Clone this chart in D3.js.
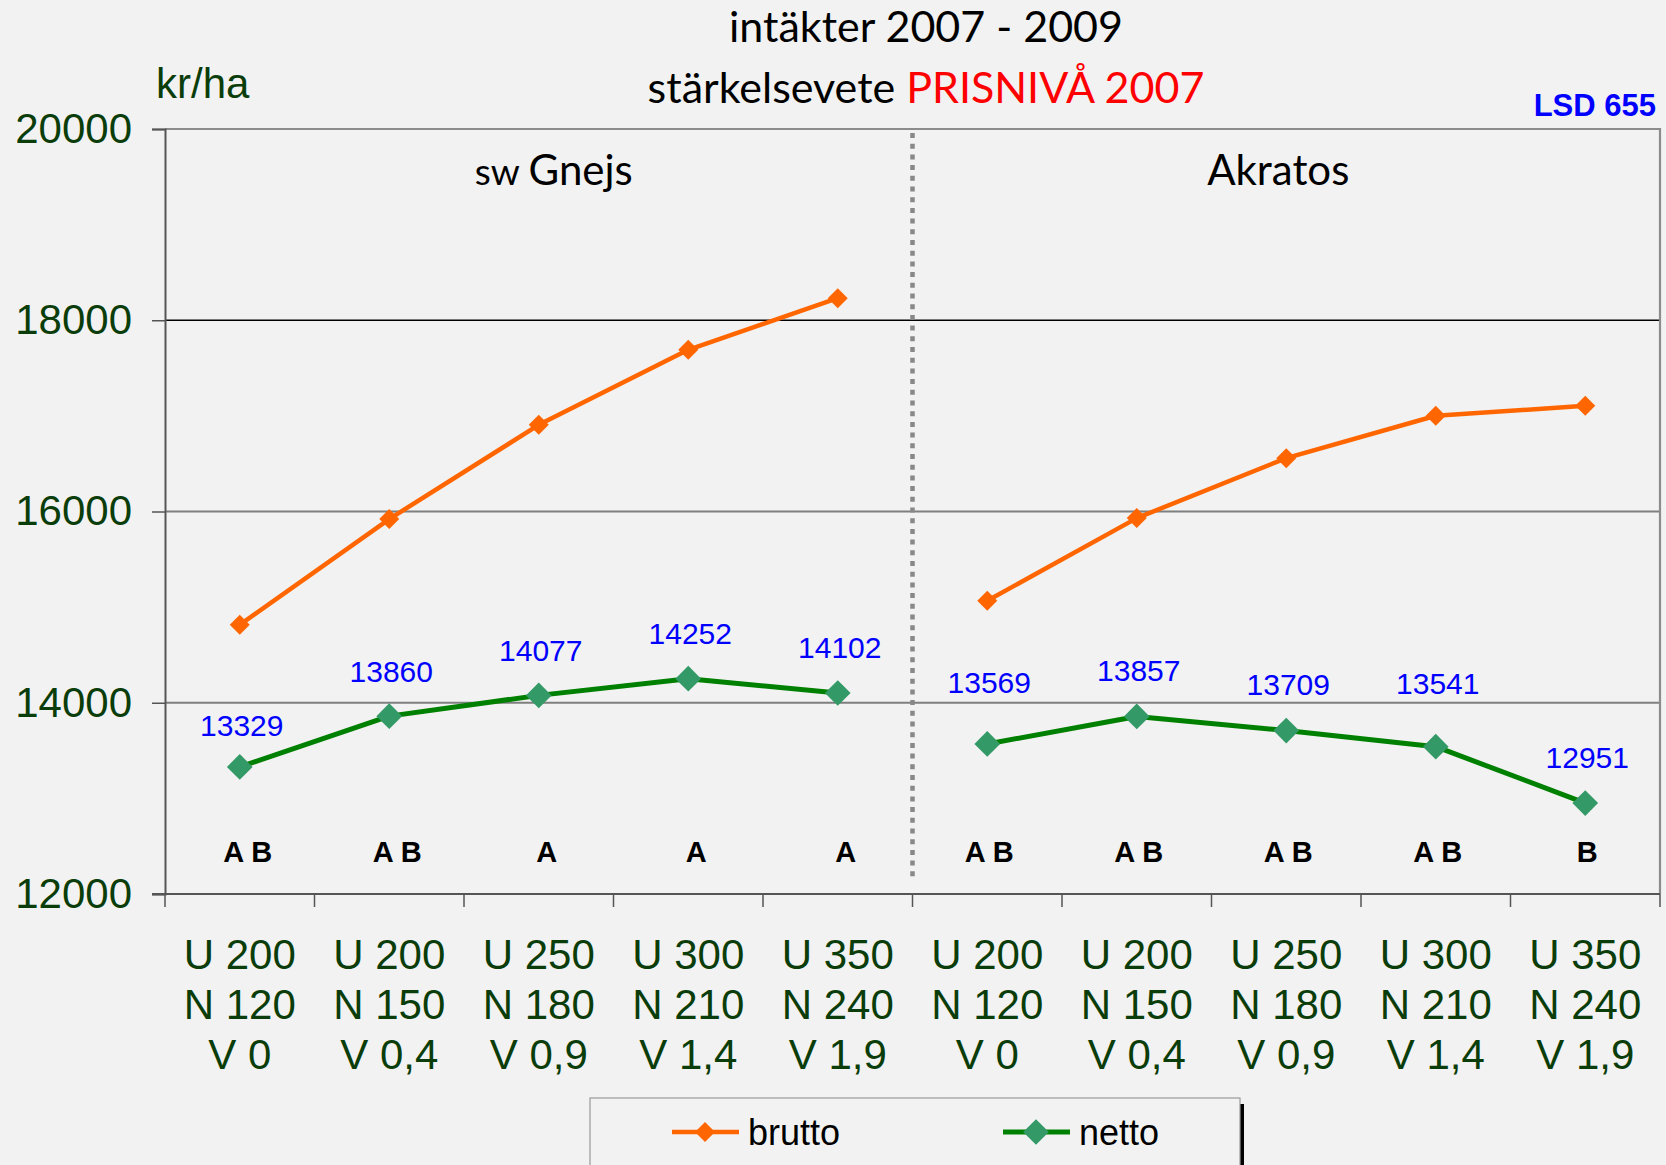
<!DOCTYPE html>
<html>
<head>
<meta charset="utf-8">
<script src="https://cdn.jsdelivr.net/npm/d3@7"></script>
<style>
  html, body { margin: 0; padding: 0; background: #f2f2f2; }
  svg { display: block; }
</style>
</head>
<body>
<svg id="chart" width="1666" height="1165"></svg>
<script>
// --- data ---
var categories = [
  ["U 200", "N 120", "V 0"],
  ["U 200", "N 150", "V 0,4"],
  ["U 250", "N 180", "V 0,9"],
  ["U 300", "N 210", "V 1,4"],
  ["U 350", "N 240", "V 1,9"],
  ["U 200", "N 120", "V 0"],
  ["U 200", "N 150", "V 0,4"],
  ["U 250", "N 180", "V 0,9"],
  ["U 300", "N 210", "V 1,4"],
  ["U 350", "N 240", "V 1,9"]
];
var varieties = ["sw Gnejs", "Akratos"];
var brutto = [14815, 15921, 16906, 17691, 18231, 15066, 15931, 16558, 17001, 17105];
var netto = [13329, 13860, 14077, 14252, 14102, 13569, 13857, 13709, 13541, 12951];
var groups = ["A B", "A B", "A", "A", "A", "A B", "A B", "A B", "A B", "B"];
var yTicks = [12000, 14000, 16000, 18000, 20000];

// --- layout ---
var svg = d3.select("#chart"),
  plotL = 165, plotR = 1660, plotT = 129, plotB = 894,
  green = "#0a3d0a",
  arial = "'Liberation Sans', Arial, sans-serif",
  calibri = "Lato, 'Open Sans', sans-serif",
  // hand placed label lift (px above marker), as in the original sheet
  labelLift = [31, 34, 34, 35, 35, 51, 35, 36, 53, 35];

var x = d3.scaleBand()
  .domain(d3.range(categories.length))
  .range([plotL, plotR])
  .padding(0);
var y = d3.scaleLinear()
  .domain([12000, 20000])
  .range([plotB, plotT]);
var cx = function(i) { return x(i) + x.bandwidth() / 2; };

svg.append("rect")
  .attr("width", 1666).attr("height", 1165)
  .attr("fill", "#f2f2f2");

// gridlines
svg.append("g")
  .selectAll("line")
  .data([14000, 16000, 18000])
  .enter().append("line")
  .attr("x1", plotL).attr("x2", plotR)
  .attr("y1", function(d) { return y(d); })
  .attr("y2", function(d) { return y(d); })
  .attr("stroke", function(d) { return d === 18000 ? "#000" : "#7f7f7f"; })
  .attr("stroke-width", function(d) { return d === 18000 ? 1.3 : 2; });

// frame top / right
svg.append("path")
  .attr("d", "M" + plotL + "," + y(20000) + "H" + plotR + "V" + plotB)
  .attr("fill", "none")
  .attr("stroke", "#8c8c8c")
  .attr("stroke-width", 2.2);

// y axis
var yAxis = svg.append("g")
  .attr("transform", "translate(" + plotL + ",0)")
  .call(d3.axisLeft(y).tickValues(yTicks).tickSize(13).tickPadding(20).tickFormat(d3.format("d")));
yAxis.select(".domain").attr("stroke", "#555").attr("stroke-width", 2);
yAxis.selectAll(".tick line").attr("stroke", "#555").attr("stroke-width", 1.5);
yAxis.selectAll(".tick text")
  .attr("fill", green)
  .style("font-family", arial)
  .style("font-size", "42px");

// x axis (ticks on category boundaries)
var xAxis = svg.append("g");
xAxis.append("line")
  .attr("x1", plotL - 13).attr("x2", plotR)
  .attr("y1", plotB).attr("y2", plotB)
  .attr("stroke", "#555").attr("stroke-width", 2.2);
xAxis.selectAll(".xt")
  .data(d3.range(categories.length + 1))
  .enter().append("line")
  .attr("class", "xt")
  .attr("x1", function(i) { return plotL + i * x.bandwidth(); })
  .attr("x2", function(i) { return plotL + i * x.bandwidth(); })
  .attr("y1", plotB).attr("y2", plotB + 13)
  .attr("stroke", "#555").attr("stroke-width", 1.5);

categories.forEach(function(lines, i) {
  var t = xAxis.append("text")
    .attr("text-anchor", "middle")
    .attr("fill", green)
    .style("font-family", arial)
    .style("font-size", "42px");
  lines.forEach(function(s, k) {
    t.append("tspan")
      .attr("x", cx(i))
      .attr("y", 969 + k * 50)
      .text(s);
  });
});

// divider between varieties
svg.append("line")
  .attr("x1", x(5)).attr("x2", x(5))
  .attr("y1", plotT + 4).attr("y2", plotB - 17)
  .attr("stroke", "#888")
  .attr("stroke-width", 4.5)
  .attr("stroke-dasharray", "5,5.7");

// variety headers
svg.append("text")
  .attr("x", (plotL + x(5)) / 2 + 15).attr("y", 185)
  .attr("text-anchor", "middle")
  .style("font-family", calibri)
  .style("font-size", "42px")
  .call(function(t) {
    t.append("tspan").style("font-size", "37px").text(varieties[0].split(" ")[0] + " ");
    t.append("tspan").text(varieties[0].split(" ")[1]);
  });
svg.append("text")
  .attr("x", (x(5) + plotR) / 2 - 8).attr("y", 185)
  .attr("text-anchor", "middle")
  .style("font-family", calibri)
  .style("font-size", "42px")
  .text(varieties[1]);

// lines
var line = d3.line()
  .x(function(d) { return cx(d.i); })
  .y(function(d) { return y(d.v); });

var diamond = function(size) {
  return d3.symbol().type(d3.symbolSquare).size(size)();
};

function drawSeries(values, color, markerColor, width, size) {
  var g = svg.append("g");
  [values.slice(0, 5).map(function(v, i) { return { i: i, v: v }; }),
   values.slice(5).map(function(v, i) { return { i: i + 5, v: v }; })]
    .forEach(function(seg) {
      g.append("path")
        .attr("d", line(seg))
        .attr("fill", "none")
        .attr("stroke", color)
        .attr("stroke-width", width)
        .attr("stroke-linejoin", "round");
    });
  g.selectAll(".m")
    .data(values)
    .enter().append("path")
    .attr("class", "m")
    .attr("d", diamond(size))
    .attr("transform", function(d, i) {
      return "translate(" + cx(i) + "," + y(d) + ") rotate(45)";
    })
    .attr("fill", markerColor);
}

drawSeries(brutto, "#ff6600", "#ff6600", 4.5, 200);
drawSeries(netto, "#008000", "#339966", 5, 330);

// netto value labels
svg.append("g")
  .selectAll("text")
  .data(netto)
  .enter().append("text")
  .attr("x", function(d, i) { return cx(i) + 2; })
  .attr("y", function(d, i) { return y(d) - labelLift[i]; })
  .attr("text-anchor", "middle")
  .attr("fill", "#0000ff")
  .style("font-family", arial)
  .style("font-size", "30px")
  .text(function(d) { return d; });

// significance groups
svg.append("g")
  .selectAll("text")
  .data(groups)
  .enter().append("text")
  .attr("x", function(d, i) { return cx(i) + (i < 5 ? 8 : 2); })
  .attr("y", 862)
  .attr("text-anchor", "middle")
  .attr("fill", "#000")
  .style("font-family", arial)
  .style("font-weight", "bold")
  .style("font-size", "29px")
  .text(function(d) { return d; });

// titles
svg.append("text")
  .attr("x", 926).attr("y", 42)
  .attr("text-anchor", "middle")
  .style("font-family", calibri)
  .style("font-size", "43px")
  .text("intäkter 2007 - 2009");
svg.append("text")
  .attr("x", 926).attr("y", 103)
  .attr("text-anchor", "middle")
  .style("font-family", calibri)
  .style("font-size", "43px")
  .call(function(t) {
    t.append("tspan").text("stärkelsevete ");
    t.append("tspan").attr("fill", "#ff0000").text("PRISNIVÅ 2007");
  });

svg.append("text")
  .attr("x", 156).attr("y", 98)
  .attr("fill", green)
  .style("font-family", arial)
  .style("font-size", "42px")
  .text("kr/ha");

svg.append("text")
  .attr("x", 1656).attr("y", 116)
  .attr("text-anchor", "end")
  .attr("fill", "#0000ff")
  .style("font-family", arial)
  .style("font-weight", "bold")
  .style("font-size", "31px")
  .text("LSD 655");

// legend
var legend = svg.append("g");
legend.append("rect")
  .attr("x", 594).attr("y", 1104).attr("width", 650).attr("height", 80)
  .attr("fill", "#000");
legend.append("rect")
  .attr("x", 590).attr("y", 1098).attr("width", 650).attr("height", 80)
  .attr("fill", "#f2f2f2")
  .attr("stroke", "#999")
  .attr("stroke-width", 1.2);

[{ name: "brutto", color: "#ff6600", marker: "#ff6600", x: 672, size: 200, w: 4.5 },
 { name: "netto", color: "#008000", marker: "#339966", x: 1003, size: 330, w: 5 }]
  .forEach(function(s) {
    legend.append("line")
      .attr("x1", s.x).attr("x2", s.x + 67)
      .attr("y1", 1132).attr("y2", 1132)
      .attr("stroke", s.color).attr("stroke-width", s.w);
    legend.append("path")
      .attr("d", diamond(s.size))
      .attr("transform", "translate(" + (s.x + 33) + ",1132) rotate(45)")
      .attr("fill", s.marker);
    legend.append("text")
      .attr("x", s.x + 76).attr("y", 1145)
      .style("font-family", arial)
      .style("font-size", "36px")
      .text(s.name);
  });
</script>
</body>
</html>
